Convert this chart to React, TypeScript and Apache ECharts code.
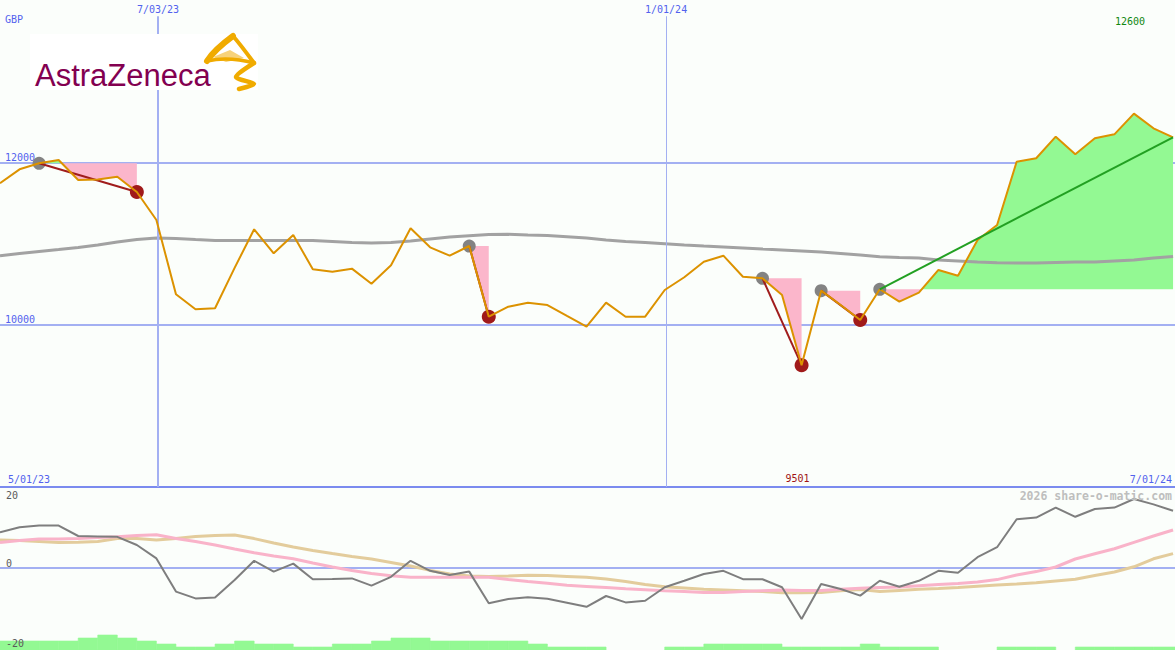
import React, { useEffect, useRef } from 'react';
import * as echarts from 'echarts';

// ---- data (weekly points) ----
const price = [
  11742, 11914, 11988, 12029, 11782, 11789, 11823, 11635, 11290, 10374,
  10189, 10202, 10700, 11175, 10879, 11105, 10682, 10653, 10690, 10505,
  10731, 11187, 10953, 10850, 10969, 10098, 10221, 10271, 10242, 10107,
  9975, 10271, 10098, 10098, 10427, 10584, 10776, 10850, 10591, 10571,
  10366, 9501, 10419, 10242, 10058, 10436, 10283, 10394, 10674, 10603,
  11043, 11228, 12008, 12050, 12316, 12099, 12296, 12345, 12600, 12419, 12308,
];
const movingAvg = [
  10850, 10877, 10902, 10926, 10951, 10982, 11019, 11049, 11068, 11062,
  11049, 11037, 11037, 11037, 11037, 11037, 11037, 11025, 11012, 11006,
  11012, 11031, 11056, 11080, 11096, 11111, 11113, 11105, 11099, 11084,
  11068, 11043, 11025, 11012, 10998, 10982, 10969, 10957, 10945, 10932,
  10920, 10908, 10895, 10877, 10858, 10837, 10828, 10821, 10797, 10785,
  10772, 10764, 10760, 10760, 10766, 10772, 10772, 10785, 10797, 10821, 10840,
];
const oscillator = [
  8.9, 10.2, 10.6, 10.6, 8.0, 7.9, 7.8, 5.75, 2.4, -5.9,
  -7.6, -7.4, -3.0, 1.8, -0.9, 1.1, -2.8, -2.75, -2.6, -4.4,
  -2.2, 1.8, -0.7, -1.75, -0.9, -8.8, -7.75, -7.3, -7.7, -8.7,
  -9.7, -7.0, -8.6, -8.2, -4.8, -3.2, -1.5, -0.7, -2.8, -2.8,
  -4.8, -12.75, -4.0, -5.25, -6.9, -3.2, -4.7, -3.2, -0.7, -1.2,
  2.7, 5.2, 12.2, 12.6, 15.1, 12.8, 14.75, 15.1, 17.25, 15.9, 14.3,
];
const pinkAvg = [
  6.4, 6.9, 7.25, 7.25, 7.4, 7.6, 7.8, 8.1, 8.3, 7.4,
  6.6, 5.75, 4.75, 3.8, 3.0, 2.3, 1.25, 0.25, -0.6, -1.4,
  -1.95, -2.3, -2.3, -2.3, -2.3, -2.3, -2.9, -3.4, -3.8, -4.3,
  -4.6, -4.9, -5.2, -5.45, -5.7, -5.9, -6.15, -6.1, -5.9, -5.7,
  -5.5, -5.6, -5.65, -5.3, -5.05, -4.9, -4.75, -4.45, -4.15, -3.9,
  -3.5, -2.9, -1.75, -0.9, 0.25, 2.25, 3.55, 4.8, 6.4, 8.0, 9.5,
];
const tanAvg = [
  7.0, 6.85, 6.6, 6.35, 6.45, 6.6, 7.4, 7.4, 7.0, 7.4,
  7.85, 8.15, 8.25, 7.35, 6.25, 5.25, 4.4, 3.6, 2.9, 2.25,
  1.4, 0.5, -0.6, -1.5, -2.0, -2.1, -2.0, -1.8, -1.9, -2.1,
  -2.3, -2.75, -3.4, -4.1, -4.7, -5.0, -5.3, -5.5, -5.7, -5.9,
  -6.2, -6.2, -6.15, -5.7, -5.4, -5.9, -5.6, -5.3, -5.1, -4.85,
  -4.55, -4.25, -4.0, -3.7, -3.25, -2.8, -1.9, -1.0, 0.3, 2.3, 3.6,
];
const volumeLevels = [
  3, 3, 3, 3, 4, 5, 4, 3, 2, 1,
  1, 2, 3, 2, 2, 1, 1, 2, 2, 3,
  4, 4, 3, 3, 3, 3, 3, 2, 1, 1,
  1, 0, 0, 0, 1, 1, 2, 2, 2, 2,
  1, 1, 1, 1, 2, 1, 1, 1, 0, 0,
  0, 1, 1, 1, 0, 1, 1, 1, 1, 1, 1,
];
const topTicks = [10000, 12000];
const bottomTicks = [-20, 0, 20];
const dateMarks = [
  { label: '7/03/23', week: 8.08, width: 2 },
  { label: '1/01/24', week: 34.07, width: 1 },
];
const startLabel = '5/01/23';
const endLabel = '7/01/24';
const currency = 'GBP';
const copyright = '2026 share-o-matic.com';
const highMarks = [2, 24, 39, 42, 45];
const lowMarks = [7, 25, 41, 44];
const patches = [[2, 7], [24, 25], [39, 41], [42, 44], [45, 60]];
const declines = [[2, 7], [24, 25], [39, 41], [42, 44]];
const trend = [45, 60];

// ---- styles ----
const BLUE = '#5262ee';
const GRIDC = '#a3b0f2';
const SEP = '#7b8bef';
const MONO = '"DejaVu Sans Mono", monospace';
const PINK_FILL = '#fbb6cb';
const GREEN_FILL = '#93f993';
const BG = '#fbfefb';
const GOLD = '#f0ab00';
const X_MAX = 60.1;

const hiIdx = price.reduce((b, v, i) => (v > price[b] ? i : b), 0);
const loIdx = price.reduce((b, v, i) => (v < price[b] ? i : b), 0);

function renderPatch(params: any, api: any) {
  const a = api.value(0);
  const b = api.value(1);
  const by = api.coord([a, price[a]])[1];
  const pts: number[][] = [];
  for (let i = a; i <= b; i++) pts.push(api.coord([i, price[i]]));
  const polys: { pts: number[][]; up: boolean }[] = [];
  let cur: number[][] = [[pts[0][0], by]];
  let side = 0;
  for (let k = 0; k < pts.length; k++) {
    const p = pts[k];
    cur.push(p);
    const s1 = p[1] - by;
    if (side === 0 && Math.abs(s1) > 0.01) side = s1 < 0 ? 1 : -1;
    if (k < pts.length - 1) {
      const q = pts[k + 1];
      const s2 = q[1] - by;
      if (s1 * s2 < 0) {
        const xc = p[0] + ((q[0] - p[0]) * s1) / (s1 - s2);
        cur.push([xc, by]);
        polys.push({ pts: cur, up: s1 < 0 });
        cur = [[xc, by]];
        side = 0;
      }
    }
  }
  cur.push([pts[pts.length - 1][0], by]);
  polys.push({ pts: cur, up: side === 1 });
  return {
    type: 'group',
    children: polys.map((p) => ({
      type: 'polygon',
      shape: { points: p.pts },
      style: { fill: p.up ? GREEN_FILL : PINK_FILL },
    })),
  };
}

function renderBar(params: any, api: any) {
  const i = api.value(0);
  const lv = api.value(1);
  if (!lv) return null;
  const p0 = api.coord([i, lv]);
  const p1 = api.coord([i + 1, 0]);
  return {
    type: 'rect',
    shape: { x: p0[0], y: p0[1], width: p1[0] - p0[0], height: p1[1] - p0[1] },
    style: { fill: GREEN_FILL, stroke: GREEN_FILL, lineWidth: 0.6 },
  };
}

const xy = (arr: number[]) => arr.map((v, i) => [i, v]);

function buildOption() {
  return {
    animation: false,
    backgroundColor: BG,
    grid: [
      { left: 0, right: 0, top: 0, height: 487 },
      { left: 0, right: 0, top: 488, height: 160 },
      { left: 0, right: 0, top: 488, height: 162 },
    ],
    xAxis: [0, 1, 2].map((g) => ({ type: 'value', gridIndex: g, min: 0, max: X_MAX, show: false })),
    yAxis: [
      {
        type: 'value', gridIndex: 0, min: 8000, max: 14000, interval: 2000,
        axisLine: { show: false }, axisTick: { show: false },
        axisLabel: {
          inside: true, margin: 5, verticalAlign: 'bottom', color: BLUE,
          fontFamily: MONO, fontSize: 10,
          formatter: (v: number) => (topTicks.includes(v) ? String(v) : ''),
        },
        splitLine: { show: true, lineStyle: { color: [SEP, GRIDC, GRIDC, 'rgba(0,0,0,0)'], width: 2 } },
      },
      {
        type: 'value', gridIndex: 1, min: -20, max: 20, interval: 20, z: 3,
        axisLine: { show: false }, axisTick: { show: false },
        axisLabel: {
          inside: true, margin: 6, verticalAlign: 'bottom', verticalAlignMaxLabel: 'top',
          padding: [2, 0, 0, 0],
          color: '#5a5a5a', fontFamily: MONO, fontSize: 10,
          formatter: (v: number) => (bottomTicks.includes(v) ? String(v) : ''),
        },
        splitLine: { show: true, lineStyle: { color: ['rgba(0,0,0,0)', GRIDC, 'rgba(0,0,0,0)'], width: 2 } },
      },
      { type: 'value', gridIndex: 2, min: 0, max: 54, show: false },
    ],
    series: [
      {
        type: 'custom', name: 'patches', xAxisIndex: 0, yAxisIndex: 0, z: 1,
        renderItem: renderPatch, encode: { x: 0, y: 2 },
        data: patches.map(([a, b]) => [a, b, price[a]]),
      },
      {
        type: 'line', name: 'ma', xAxisIndex: 0, yAxisIndex: 0, z: 2,
        data: xy(movingAvg), symbol: 'none',
        lineStyle: { color: '#a2a2a2', width: 3 },
        markLine: {
          silent: true, symbol: ['none', 'none'],
          label: { show: true, position: 'end', distance: 2, color: BLUE, fontFamily: MONO, fontSize: 10, formatter: '{b}' },
          data: dateMarks.map((d) => [
            { coord: [d.week, 8000], name: d.label, lineStyle: { color: GRIDC, width: d.width, type: 'solid' } },
            { coord: [d.week, 13800] },
          ]),
        },
      },
      {
        type: 'scatter', name: 'highs', xAxisIndex: 0, yAxisIndex: 0, z: 3,
        data: highMarks.map((i) => [i, price[i]]), symbolSize: 13,
        itemStyle: { color: '#838383', opacity: 1 },
      },
      {
        type: 'scatter', name: 'lows', xAxisIndex: 0, yAxisIndex: 0, z: 3,
        data: lowMarks.map((i) => [i, price[i]]), symbolSize: 14,
        itemStyle: { color: '#a01a1a', opacity: 1 },
      },
      ...declines.map(([a, b], k) => ({
        type: 'line', name: 'decline' + k, xAxisIndex: 0, yAxisIndex: 0, z: 4,
        data: [[a, price[a]], [b, price[b]]], symbol: 'none',
        lineStyle: { color: '#a01c1c', width: 2 },
      })),
      {
        type: 'line', name: 'price', xAxisIndex: 0, yAxisIndex: 0, z: 5,
        data: xy(price), symbol: 'none',
        lineStyle: { color: '#dc9200', width: 2 },
        markPoint: {
          symbol: 'circle', symbolSize: 0, silent: true,
          label: { show: true, position: 'inside', fontFamily: MONO, fontSize: 10, offset: [-4, 0] },
          data: [
            { coord: [hiIdx, 13740], label: { formatter: String(price[hiIdx]), color: '#118811' } },
            { coord: [loIdx, 8100], label: { formatter: String(price[loIdx]), color: '#a01414' } },
          ],
        },
      },
      {
        type: 'line', name: 'trend', xAxisIndex: 0, yAxisIndex: 0, z: 6,
        data: [[trend[0], price[trend[0]]], [trend[1], price[trend[1]]]], symbol: 'none',
        lineStyle: { color: '#22a022', width: 2 },
      },
      {
        type: 'custom', name: 'volume', xAxisIndex: 2, yAxisIndex: 2, z: 1,
        renderItem: renderBar, encode: { x: 0, y: 1 },
        data: volumeLevels.map((v, i) => [i, v]),
      },
      {
        type: 'line', name: 'tan', xAxisIndex: 1, yAxisIndex: 1, z: 5,
        data: xy(tanAvg), symbol: 'none',
        lineStyle: { color: '#e3cc9c', width: 3 },
        markLine: {
          silent: true, symbol: ['none', 'none'], label: { show: false },
          data: dateMarks.map((d) => [
            { coord: [d.week, -20.5], lineStyle: { color: GRIDC, width: d.width, type: 'solid' } },
            { coord: [d.week, 20] },
          ]),
        },
      },
      {
        type: 'line', name: 'pink', xAxisIndex: 1, yAxisIndex: 1, z: 6,
        data: xy(pinkAvg), symbol: 'none',
        lineStyle: { color: '#f9b3c9', width: 3 },
      },
      {
        type: 'line', name: 'osc', xAxisIndex: 1, yAxisIndex: 1, z: 7,
        data: xy(oscillator), symbol: 'none',
        lineStyle: { color: '#7e7e7e', width: 2 },
      },
    ],
    graphic: [
      { type: 'text', z: 100, style: { x: 5, y: 19, text: currency, verticalAlign: 'middle', fill: BLUE, font: '10px ' + MONO } },
      { type: 'text', z: 100, style: { x: 8, y: 479, text: startLabel, verticalAlign: 'middle', fill: BLUE, font: '10px ' + MONO } },
      { type: 'text', z: 100, style: { x: 1172, y: 479, text: endLabel, align: 'right', verticalAlign: 'middle', fill: BLUE, font: '10px ' + MONO } },
      { type: 'text', z: 100, style: { x: 1172, y: 496, text: copyright, align: 'right', verticalAlign: 'middle', fill: '#bebebe', font: 'bold 11.5px ' + MONO } },
      { type: 'rect', z: 100, shape: { x: 30, y: 34, width: 228, height: 56 }, style: { fill: '#ffffff' } },
      {
        type: 'text', z: 101,
        style: { x: 35, y: 75, text: 'AstraZeneca', verticalAlign: 'middle', fill: '#830051', font: '31px "Liberation Sans", Arial, sans-serif' },
      },
      // logo mark (approximation)
      {
        type: 'polygon', z: 101,
        shape: { points: [[213, 57], [230, 50], [244, 58], [226, 62]] },
        style: { fill: '#f7d27a' },
      },
      {
        type: 'bezierCurve', z: 102,
        shape: { x1: 207, y1: 61, cpx1: 214, cpy1: 50, x2: 233, y2: 36 },
        style: { stroke: GOLD, lineWidth: 6, fill: 'none', lineCap: 'round' },
      },
      {
        type: 'bezierCurve', z: 102,
        shape: { x1: 233, y1: 36, cpx1: 240, cpy1: 44, x2: 254, y2: 63 },
        style: { stroke: GOLD, lineWidth: 4, fill: 'none', lineCap: 'round' },
      },
      {
        type: 'bezierCurve', z: 102,
        shape: { x1: 207, y1: 61, cpx1: 228, cpy1: 56, x2: 254, y2: 63 },
        style: { stroke: GOLD, lineWidth: 3.5, fill: 'none', lineCap: 'round' },
      },
      {
        type: 'polyline', z: 102,
        shape: { points: [[254, 63], [236, 77], [254, 84], [239, 89]], smooth: 0.25 },
        style: { stroke: GOLD, lineWidth: 4.5, fill: 'none', lineJoin: 'round', lineCap: 'round' },
      },
    ],
  };
}

export default function App() {
  const ref = useRef<HTMLDivElement>(null);
  useEffect(() => {
    if (!ref.current) return;
    const chart = echarts.init(ref.current, undefined, { renderer: 'svg' });
    chart.setOption(buildOption() as any);
    return () => chart.dispose();
  }, []);
  return (
    <div
      ref={ref}
      style={{ position: 'absolute', left: 0, top: 0, width: 1175, height: 650, background: BG }}
    />
  );
}
